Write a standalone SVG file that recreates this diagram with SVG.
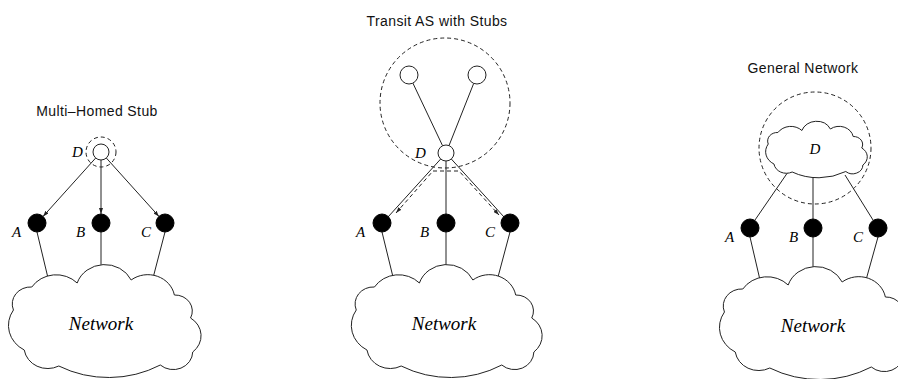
<svg xmlns="http://www.w3.org/2000/svg" width="898" height="379" viewBox="0 0 898 379">
<style>
.title{font-family:"Liberation Sans",Arial,sans-serif;font-size:14px;letter-spacing:0.4px;fill:#111;text-anchor:middle}
.lbl{font-family:"Liberation Serif","Times New Roman",serif;font-style:italic;font-size:15px;fill:#000}
.net{font-family:"Liberation Serif","Times New Roman",serif;font-style:italic;font-size:19px;fill:#000;text-anchor:middle}
.ln{stroke:#222;stroke-width:1;fill:none}
.dash{stroke:#222;stroke-width:1;fill:none;stroke-dasharray:4 3}
.open{fill:#fff;stroke:#222;stroke-width:1}
.solid{fill:#000;stroke:#000}
.cloud{fill:#fff;stroke:#222;stroke-width:1}
</style>
<defs>
<marker id="arr" viewBox="0 0 6 4" refX="6" refY="2" markerWidth="6" markerHeight="4" markerUnits="userSpaceOnUse" orient="auto-start-reverse">
<path d="M0,0 L6,2 L0,4 Z" fill="#222"/>
</marker>
<path id="cloudShape" vector-effect="non-scaling-stroke" d="M-23,-37 A27,27 0 0 1 27,-40 A25,25 0 0 1 67,-25 A16,16 0 0 1 82,-2 A21,21 0 0 1 84,32 A18,18 0 0 1 54,45 A98,98 0 0 1 -40,46 A22,22 0 0 1 -72,30 A28,28 0 0 1 -82,-10 A17,17 0 0 1 -65,-33 A27,27 0 0 1 -23,-37 Z"/>
</defs>

<g id="connectors">
<!-- panel 1 -->
<line class="ln" x1="95.7" y1="158" x2="43" y2="216.5" marker-end="url(#arr)"/>
<line class="ln" x1="101" y1="160" x2="101" y2="214" marker-end="url(#arr)"/>
<line class="ln" x1="106.3" y1="158" x2="159" y2="216.5" marker-end="url(#arr)"/>
<line class="ln" x1="37" y1="232" x2="48" y2="278"/>
<line class="ln" x1="101" y1="232" x2="101" y2="266"/>
<line class="ln" x1="165" y1="232" x2="153" y2="278"/>
<!-- panel 2 -->
<line class="ln" x1="412.9" y1="83.1" x2="442.6" y2="145.8"/>
<line class="ln" x1="473.7" y1="83.4" x2="449" y2="145.6"/>
<line class="ln" x1="440.7" y1="159" x2="388" y2="217"/>
<line class="ln" x1="446" y1="161" x2="446" y2="214"/>
<line class="ln" x1="451.3" y1="159" x2="504" y2="217"/>
<polyline class="dash" points="396,213 433,171 459,171 499,215" marker-start="url(#arr)" marker-end="url(#arr)"/>
<line class="ln" x1="382" y1="232" x2="393" y2="277"/>
<line class="ln" x1="446" y1="232" x2="446" y2="266"/>
<line class="ln" x1="510" y1="232" x2="498" y2="277"/>
<!-- panel 3 -->
<line class="ln" x1="788" y1="172" x2="755" y2="220"/>
<line class="ln" x1="813" y1="177" x2="813" y2="219"/>
<line class="ln" x1="845" y1="175" x2="873" y2="220"/>
<line class="ln" x1="750" y1="237" x2="760" y2="280"/>
<line class="ln" x1="813" y1="237" x2="813" y2="271"/>
<line class="ln" x1="878" y1="237" x2="866" y2="280"/>
</g>

<!-- Panel 1: Multi-Homed Stub -->
<g id="title1"><text class="title" x="97" y="116">Multi–Homed Stub</text></g>
<g id="p1-D">
<circle cx="101" cy="152" r="15" class="dash"/>
<circle class="open" cx="101" cy="152" r="8"/>
<text class="lbl" x="72" y="157">D</text>
</g>
<g id="p1-A"><circle class="solid" cx="37" cy="223" r="9"/><text class="lbl" x="12" y="237">A</text></g>
<g id="p1-B"><circle class="solid" cx="101" cy="223" r="9"/><text class="lbl" x="76" y="237">B</text></g>
<g id="p1-C"><circle class="solid" cx="165" cy="223" r="9"/><text class="lbl" x="141" y="237">C</text></g>
<g id="p1-network">
<use href="#cloudShape" class="cloud" transform="translate(102,320) scale(1.08,1)"/>
<text class="net" x="101" y="330">Network</text>
</g>

<!-- Panel 2: Transit AS with Stubs -->
<g id="title2"><text class="title" x="437" y="26">Transit AS with Stubs</text></g>
<g id="p2-transit">
<circle cx="445" cy="103" r="65" class="dash"/>
<circle class="open" cx="409" cy="75" r="9"/>
<circle class="open" cx="477" cy="75" r="9"/>
</g>
<g id="p2-D"><circle class="open" cx="446" cy="153" r="8"/><text class="lbl" x="415" y="158">D</text></g>
<g id="p2-A"><circle class="solid" cx="382" cy="223" r="9"/><text class="lbl" x="356" y="237">A</text></g>
<g id="p2-B"><circle class="solid" cx="446" cy="223" r="9"/><text class="lbl" x="420" y="237">B</text></g>
<g id="p2-C"><circle class="solid" cx="510" cy="223" r="9"/><text class="lbl" x="485" y="237">C</text></g>
<g id="p2-network">
<use href="#cloudShape" class="cloud" transform="translate(444,320) scale(1.07,1)"/>
<text class="net" x="444" y="330">Network</text>
</g>

<!-- Panel 3: General Network -->
<g id="title3"><text class="title" x="803" y="73">General Network</text></g>
<g id="p3-D">
<circle cx="815" cy="148" r="56" class="dash"/>
<use href="#cloudShape" class="cloud" transform="translate(815,149) scale(0.57,0.5)"/>
<text class="lbl" x="815" y="154" text-anchor="middle">D</text>
</g>
<g id="p3-A"><circle class="solid" cx="750" cy="228" r="9"/><text class="lbl" x="725" y="242">A</text></g>
<g id="p3-B"><circle class="solid" cx="813" cy="228" r="9"/><text class="lbl" x="789" y="242">B</text></g>
<g id="p3-C"><circle class="solid" cx="878" cy="228" r="9"/><text class="lbl" x="853" y="242">C</text></g>
<g id="p3-network">
<use href="#cloudShape" class="cloud" transform="translate(813,322) scale(1.08,1)"/>
<text class="net" x="813" y="332">Network</text>
</g>
</svg>
